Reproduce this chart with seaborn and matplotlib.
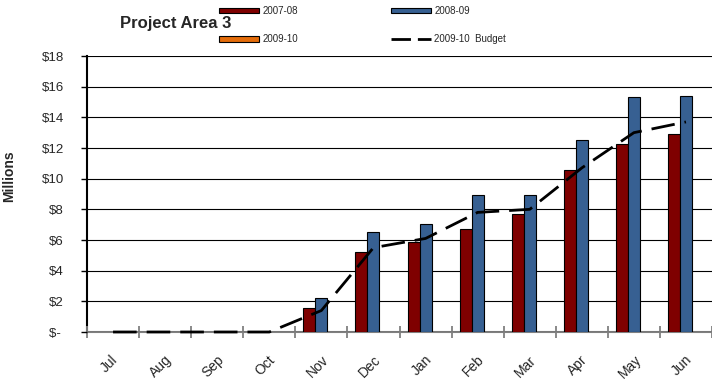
import numpy as np
import pandas as pd
import matplotlib
matplotlib.use("Agg")
import matplotlib.pyplot as plt
import matplotlib.transforms as mtransforms
from matplotlib.patches import Patch
from matplotlib.lines import Line2D
import seaborn as sns

months = ["Jul", "Aug", "Sep", "Oct", "Nov", "Dec", "Jan", "Feb", "Mar", "Apr", "May", "Jun"]
fy0708 = [np.nan, np.nan, np.nan, np.nan, 1.55, 5.25, 5.9, 6.7, 7.7, 10.55, 12.25, 12.9]
fy0809 = [np.nan, np.nan, np.nan, np.nan, 2.2, 6.55, 7.05, 8.95, 8.95, 12.55, 15.3, 15.4]
fy0910 = [np.nan] * 12
budget = [0, 0, 0, 0, 1.4, 5.5, 6.1, 7.8, 8.0, 10.7, 13.0, 13.7]
series = ["2007-08", "2008-09", "2009-10"]
colors = ["#7F0000", "#376092", "#E46C0A"]
yticks = [0, 2, 4, 6, 8, 10, 12, 14, 16, 18]

df = pd.DataFrame({
    "month": months * 3,
    "series": [s for s in series for _ in months],
    "value": fy0708 + fy0809 + fy0910,
})

sns.set_theme(style="white")
plt.rcParams["font.family"] = ["Liberation Sans", "DejaVu Sans"]

fig = plt.figure(figsize=(7.12, 3.89), dpi=100)
ax = fig.add_axes([87 / 712, 1 - 332 / 389, 1 - 87 / 712, (332 - 56) / 389])

sns.barplot(data=df, x="month", y="value", hue="series", hue_order=series,
            order=months, palette=colors, width=0.69, edgecolor="black",
            linewidth=0.8, errorbar=None, legend=False, ax=ax, saturation=1)

sns.lineplot(x=np.arange(len(months)), y=budget, ax=ax, color="black", lw=2.0,
             linestyle=(0, (8.5, 3.6)), legend=False, zorder=5, clip_on=False)

ax.set_xlim(-0.5, len(months) - 0.5)
ax.set_ylim(0, 18)
ax.set_yticks(yticks)
ax.set_yticklabels([f"${v}" if v else "$- " for v in yticks], fontsize=9.5)
ax.yaxis.grid(True, color="black", lw=0.8)
ax.set_axisbelow(False)

# major ticks at category boundaries (marks), minor ticks at centers (labels)
ax.set_xticks(np.arange(len(months) + 1) - 0.5, labels=[""] * (len(months) + 1))
ax.set_xticks(np.arange(len(months)), labels=months, minor=True)
ax.tick_params(axis="x", which="major", length=8, direction="inout", color="#808080",
               width=1.3, bottom=True)
ax.tick_params(axis="x", which="minor", length=0, pad=15, bottom=True,
               labelbottom=True, labelsize=10, labelrotation=45)
ax.tick_params(axis="y", which="major", length=4.5, direction="out", color="black",
               width=1.0, pad=12, left=True)
offset = mtransforms.ScaledTranslation(-4 / 100, 0, fig.dpi_scale_trans)
for lab in ax.get_xticklabels(minor=True):
    lab.set_transform(lab.get_transform() + offset)

for s in ["top", "right"]:
    ax.spines[s].set_visible(False)
ax.spines["left"].set_color("black")
ax.spines["left"].set_linewidth(1.5)
ax.spines["bottom"].set_color("#808080")
ax.spines["bottom"].set_linewidth(1.5)
for b in ax.patches:
    b.set_zorder(3)
ax.set_xlabel("")
ax.set_ylabel("Millions", fontsize=10, fontweight="bold")
ax.yaxis.set_label_coords((16 - 87) / 625, (332 - 176) / 276)

fig.text(120 / 712, 1 - 28 / 389, "Project Area 3", fontsize=12, fontweight="bold",
         ha="left", va="baseline")

handles = [
    Patch(facecolor=colors[0], edgecolor="black", lw=0.8),
    Patch(facecolor=colors[2], edgecolor="black", lw=0.8),
    Patch(facecolor=colors[1], edgecolor="black", lw=0.8),
    Line2D([], [], color="black", lw=2.0, linestyle=(0, (7, 2.5))),
]
labels = ["2007-08", "2009-10", "2008-09", "2009-10  Budget"]
fig.legend(handles, labels, ncol=2, loc="upper left",
           bbox_to_anchor=(219 / 712, 1 - 6 / 389), frameon=False, fontsize=7,
           handlelength=4.1, handleheight=0.55, handletextpad=0.35,
           columnspacing=9.6, labelspacing=1.9, borderpad=0, borderaxespad=0)

fig.savefig("out.png", dpi=100)
